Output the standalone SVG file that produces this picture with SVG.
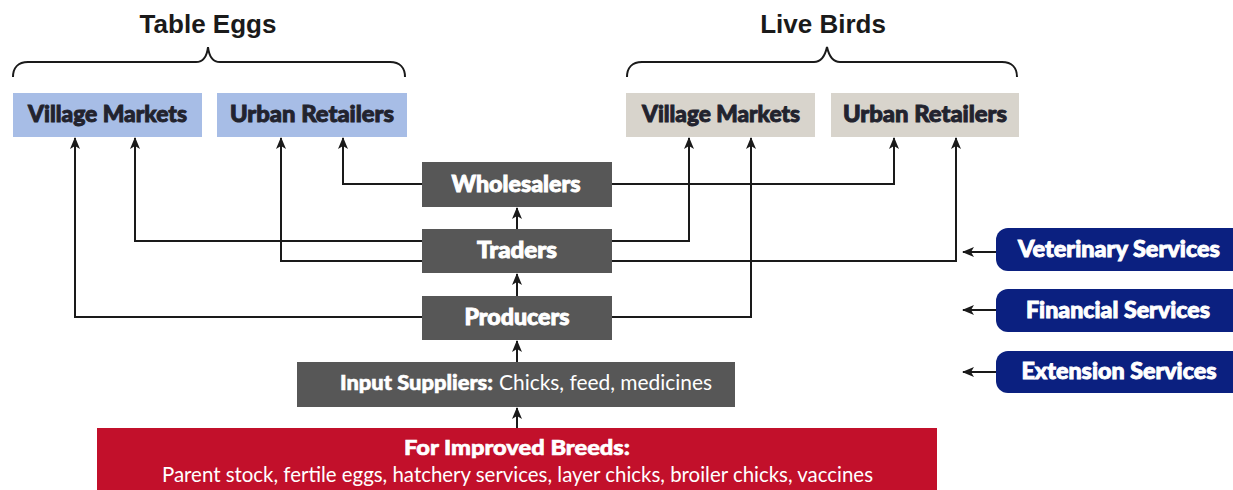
<svg xmlns="http://www.w3.org/2000/svg" width="1233" height="490" viewBox="0 0 1233 490">
<defs>
<style>
.title{font-family:"Liberation Sans",Arial,sans-serif;font-weight:bold;font-size:26px;fill:#1a1a1a;text-anchor:middle}
.lbl{font-family:Lato,"Open Sans",sans-serif;font-weight:900;font-size:22px;text-anchor:middle;stroke-width:0.9}
.dk{fill:#22232e;stroke:#22232e}
.wt{fill:#ffffff;stroke:#ffffff}
.sm{font-family:Lato,"Open Sans",sans-serif;font-size:21px;fill:#ffffff}
.bd{font-weight:900;stroke:#ffffff;stroke-width:0.6}
.blue{fill:#a7bde6}
.beige{fill:#d8d4cc}
.grey{fill:#575757}
.red{fill:#c2102b}
.navy{fill:#0b2080}
.ln{fill:none;stroke:#1a1a1a;stroke-width:2}
.br{fill:none;stroke:#1a1a1a;stroke-width:2}
</style>
<marker id="ah" viewBox="0 0 12 10" refX="11" refY="5" markerWidth="12" markerHeight="10" markerUnits="userSpaceOnUse" orient="auto">
<path d="M0,0 L12,5 L0,10 L3,5 Z" fill="#1a1a1a"/>
</marker>
</defs>
<rect width="1233" height="490" fill="#ffffff"/>

<g id="title-eggs">
<text class="title" x="208" y="33">Table Eggs</text>
<path class="br" d="M13,77 C13,68 18,62 28,62 L196,62 C203,62 207,56 208,47 C209,56 213,62 220,62 L390,62 C400,62 405,68 405,77"/>
</g>
<g id="title-birds">
<text class="title" x="823" y="33">Live Birds</text>
<path class="br" d="M627,77 C627,68 632,62 642,62 L814,62 C821,62 825,56 827,47 C829,56 833,62 840,62 L1002,62 C1012,62 1017,68 1017,77"/>
</g>

<g id="eggs-village"><rect class="blue" x="13" y="93" width="189" height="44"/><text class="lbl dk" x="107.5" y="122" textLength="159" lengthAdjust="spacingAndGlyphs">Village Markets</text></g>
<g id="eggs-urban"><rect class="blue" x="217" y="93" width="190" height="44"/><text class="lbl dk" x="312" y="122" textLength="164" lengthAdjust="spacingAndGlyphs">Urban Retailers</text></g>
<g id="birds-village"><rect class="beige" x="626" y="93" width="189" height="44"/><text class="lbl dk" x="721" y="122" textLength="158" lengthAdjust="spacingAndGlyphs">Village Markets</text></g>
<g id="birds-urban"><rect class="beige" x="831" y="93" width="188" height="44"/><text class="lbl dk" x="925" y="122" textLength="164" lengthAdjust="spacingAndGlyphs">Urban Retailers</text></g>

<g id="wholesalers"><rect class="grey" x="422" y="162" width="190" height="45"/><text class="lbl wt" x="516" y="192" textLength="129" lengthAdjust="spacingAndGlyphs">Wholesalers</text></g>
<g id="traders"><rect class="grey" x="422" y="229" width="190" height="44"/><text class="lbl wt" x="517" y="258" textLength="80" lengthAdjust="spacingAndGlyphs">Traders</text></g>
<g id="producers"><rect class="grey" x="422" y="296" width="190" height="44"/><text class="lbl wt" x="517" y="325" textLength="105" lengthAdjust="spacingAndGlyphs">Producers</text></g>
<g id="input-suppliers"><rect class="grey" x="297" y="362" width="438" height="45"/><text class="sm bd" x="340" y="390" textLength="153" lengthAdjust="spacingAndGlyphs">Input Suppliers:</text><text class="sm" x="499" y="390" textLength="213" lengthAdjust="spacingAndGlyphs">Chicks, feed, medicines</text></g>
<g id="improved-breeds"><rect class="red" x="97" y="428" width="840" height="62"/><text class="sm bd" x="517" y="455" text-anchor="middle" textLength="226" lengthAdjust="spacingAndGlyphs">For Improved Breeds:</text><text class="sm" x="517.5" y="482" text-anchor="middle" textLength="711" lengthAdjust="spacingAndGlyphs">Parent stock, fertile eggs, hatchery services, layer chicks, broiler chicks, vaccines</text></g>

<g id="veterinary"><rect class="navy" x="996" y="228" width="250" height="43" rx="12"/><text class="lbl wt" x="1119" y="257" textLength="202" lengthAdjust="spacingAndGlyphs">Veterinary Services</text></g>
<g id="financial"><rect class="navy" x="996" y="289" width="250" height="43" rx="12"/><text class="lbl wt" x="1118" y="318" textLength="184" lengthAdjust="spacingAndGlyphs">Financial Services</text></g>
<g id="extension"><rect class="navy" x="996" y="351" width="250" height="42" rx="12"/><text class="lbl wt" x="1119" y="379" textLength="195" lengthAdjust="spacingAndGlyphs">Extension Services</text></g>

<g id="connectors">
<path class="ln" d="M422,184 L343,184 L343,138" marker-end="url(#ah)"/>
<path class="ln" d="M612,184 L894,184 L894,138" marker-end="url(#ah)"/>
<path class="ln" d="M422,241 L135,241 L135,138" marker-end="url(#ah)"/>
<path class="ln" d="M422,261 L281,261 L281,138" marker-end="url(#ah)"/>
<path class="ln" d="M612,241 L689,241 L689,138" marker-end="url(#ah)"/>
<path class="ln" d="M612,261 L956,261 L956,138" marker-end="url(#ah)"/>
<path class="ln" d="M422,317 L75,317 L75,138" marker-end="url(#ah)"/>
<path class="ln" d="M612,317 L751,317 L751,138" marker-end="url(#ah)"/>
<path class="ln" d="M517,229 L517,208" marker-end="url(#ah)"/>
<path class="ln" d="M517,296 L517,274" marker-end="url(#ah)"/>
<path class="ln" d="M517,362 L517,341" marker-end="url(#ah)"/>
<path class="ln" d="M517,428 L517,408" marker-end="url(#ah)"/>
<path class="ln" d="M996,252 L963,252" marker-end="url(#ah)"/>
<path class="ln" d="M996,310 L963,310" marker-end="url(#ah)"/>
<path class="ln" d="M996,372 L963,372" marker-end="url(#ah)"/>
</g>
</svg>
